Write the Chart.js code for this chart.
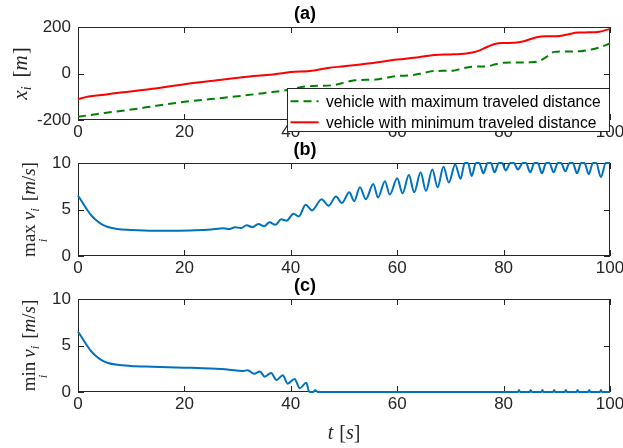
<!DOCTYPE html>
<html><head><meta charset="utf-8">
<script src="https://cdn.jsdelivr.net/npm/chart.js@4.4.0/dist/chart.umd.min.js"></script>
<style>
html,body{margin:0;padding:0;background:#fff;width:623px;height:448px;overflow:hidden;}
canvas{position:absolute;left:0;}
</style></head><body>
<canvas id="ca" width="623" height="142" style="top:0px"></canvas>
<canvas id="cb" width="623" height="142" style="top:136px"></canvas>
<canvas id="cc" width="623" height="176" style="top:272px"></canvas>
<script>
// ---------- data ----------
const xTicks = [0, 20, 40, 60, 80, 100];
const posTicks = [-200, 0, 200];
const speedTicks = [0, 5, 10];
const panelTitles = ['(a)', '(b)', '(c)'];
const legendLabels = ['vehicle with maximum traveled distance', 'vehicle with minimum traveled distance'];

const maxDistT = [0,5,10,15,20,25,30,35,40,42,44,48,50,52,56,58,60,63,65,67,70.5,72,74,77,78.5,80,85,86.5,88,89.5,92,94.5,96.5,98,100];
const maxDistX = [-186,-170,-155,-138,-122,-110,-98,-84,-69,-58,-54,-50,-40,-29,-26,-18,-11,-7,3,11,12,20,29,31,40,46,48,52,70,93,95,96,103,112,129];

const minDistT = [0,2,5,8,14,20,27,33,37,40,44,47,50,55,60,64,67,70,73,75,77,78.5,80,82,84,86,88,90,92,94,96,98,100];
const minDistX = [-110,-99,-91,-82,-66,-46,-27,-11,-3,6,12,24,31,44,60,70,80,82,86,95,115,128,131,132,140,155,160,160,168,176,177,180,192];

const maxSpeedT = [0,0.9,1.75,2.6,3.6,4.5,5.5,7.4,9.9,14.3,19,22,25,
  27.3,28.5,29.5,30.6,31.7,32.8,33.9,35.0,36.0,37.1,38.2,39.2,40.5,41.5,42.8,44.0,
  45.8,47.1,48.5,49.6,51.0,51.9,53.0,54.1,55.5,56.4,57.7,58.6,60.0,61.0,62.2,63.2,
  64.4,65.4,66.6,67.6,68.7,69.7,70.9,71.9,
  72.7,73.3,74.0,74.8,75.4,76.2,77.0,77.6,78.3,79.1,79.7,80.4,81.3,81.9,82.7,83.6,84.2,85.0,
  85.8,86.4,87.2,88.0,88.6,89.4,90.2,90.8,91.6,92.4,93.0,93.8,94.6,95.2,96.0,96.8,97.4,98.3,99.2,100];
const maxSpeedV = [6.5,5.7,4.95,4.3,3.76,3.4,3.15,2.9,2.8,2.72,2.72,2.76,2.85,
  2.98,2.9,3.1,3.0,3.3,3.1,3.45,3.2,3.62,3.35,3.95,3.8,4.55,4.25,5.5,4.9,
  6.1,5.4,6.4,5.7,6.85,5.9,7.4,6.1,7.75,6.3,8.05,6.6,8.35,6.75,8.7,6.85,
  9.0,7.0,9.3,7.4,9.6,7.9,9.85,8.3,
  10,10,8.6,10,10,8.9,10,10,9.0,10,10,9.2,10,10,9.3,10,10,9.0,
  10,10,8.9,10,10,9.0,10,10,9.1,10,10,8.9,10,10,8.8,10,10,8.5,10,10];

const minSpeedT = [0,0.9,1.75,2.6,3.6,4.5,5.5,7.4,9.9,14,20,25,28.4,30.9,31.9,33.1,34.2,35.1,36.3,37.3,
  38.5,39.4,40.7,41.7,42.9,43.5,44.2,44.6,45.1,
  82.7,82.9,83.1,84.9,85.1,85.3,87.1,87.3,87.5,89.3,89.5,89.7,91.5,91.7,91.9,93.7,93.9,94.1,95.9,96.1,96.3,98.1,98.3,98.5,100];
const minSpeedV = [6.5,5.7,4.95,4.3,3.76,3.4,3.15,2.92,2.8,2.72,2.62,2.52,2.4,2.25,2.35,1.95,2.2,1.65,2.05,1.3,
  1.8,0.9,1.4,0.4,1.0,0,0,0.2,0,
  0,0.22,0,0,0.22,0,0,0.22,0,0,0.22,0,0,0.22,0,0,0.22,0,0,0.22,0,0,0.22,0,0];

// ---------- helpers ----------
const pts = (T, V) => T.map((t, i) => ({x: t, y: V[i]}));
const SANS = "'Liberation Sans', Arial, sans-serif";
const SERIF = "'Liberation Serif', 'DejaVu Serif', serif";
const AX = '#262626';

function drawRuns(ctx, runs, cx, cy, rotate) {
  ctx.save();
  let total = 0;
  runs.forEach(r => { ctx.font = r.font; r.w = ctx.measureText(r.text).width; if (!r.under) total += r.w + (r.gap || 0); });
  ctx.translate(cx, cy);
  if (rotate) ctx.rotate(-Math.PI / 2);
  ctx.fillStyle = AX;
  ctx.textBaseline = 'alphabetic';
  let x = -total / 2, last = null;
  runs.forEach(r => {
    ctx.font = r.font;
    if (r.under && last) {
      ctx.fillText(r.text, last.x + last.w / 2 - r.w / 2, 5 + r.dy);
    } else {
      ctx.fillText(r.text, x, 5 + (r.dy || 0));
      last = {x, w: r.w};
      x += r.w + (r.gap || 0);
    }
  });
  ctx.restore();
}

const frame = {
  id: 'frame',
  beforeDatasetsDraw(chart) {
    const {ctx, chartArea: a, scales: {x, y}} = chart;
    ctx.save();
    ctx.strokeStyle = AX; ctx.lineWidth = 1;
    ctx.strokeRect(a.left + 0.5, a.top + 0.5, a.right - a.left - 1, a.bottom - a.top - 1);
    const L = 6;
    ctx.beginPath();
    x.ticks.forEach(t => {
      const px = Math.round(x.getPixelForValue(t.value)) + 0.5;
      ctx.moveTo(px, a.bottom); ctx.lineTo(px, a.bottom - L);
      ctx.moveTo(px, a.top); ctx.lineTo(px, a.top + L);
    });
    y.ticks.forEach(t => {
      const py = Math.round(y.getPixelForValue(t.value)) + 0.5;
      ctx.moveTo(a.left, py); ctx.lineTo(a.left + L, py);
      ctx.moveTo(a.right, py); ctx.lineTo(a.right - L, py);
    });
    ctx.stroke();
    ctx.restore();
  }
};

function yLabel(runs, cx) {
  return {
    id: 'ylab',
    afterDraw(chart) {
      const a = chart.chartArea;
      drawRuns(chart.ctx, runs, cx, (a.top + a.bottom) / 2, true);
    }
  };
}

const legendBox = {
  id: 'legendBox',
  afterDraw(chart) {
    const {ctx, chartArea: a} = chart;
    const x1 = a.right - 0.5, x0 = x1 - 322, y0 = a.bottom - 31.5, y1 = a.bottom + 11.5;
    ctx.save();
    ctx.fillStyle = '#fff';
    ctx.fillRect(x0, y0, x1 - x0, y1 - y0);
    ctx.strokeStyle = AX; ctx.lineWidth = 1;
    ctx.strokeRect(x0, y0, x1 - x0, y1 - y0);
    ctx.font = '15.6px ' + SANS;
    ctx.textBaseline = 'alphabetic';
    chart.data.datasets.forEach((ds, i) => {
      const base = y0 + 18.8 + i * 21;
      ctx.save();
      ctx.strokeStyle = ds.borderColor; ctx.lineWidth = ds.borderWidth;
      ctx.setLineDash(ds.borderDash || []);
      ctx.beginPath(); ctx.moveTo(x0 + 3, base - 6); ctx.lineTo(x0 + 31, base - 6); ctx.stroke();
      ctx.restore();
      ctx.fillStyle = '#000';
      ctx.fillText(ds.label, x0 + 38.5, base);
    });
    ctx.restore();
  }
};

const xTitle = {
  id: 'xtitle',
  afterDraw(chart) {
    const a = chart.chartArea;
    drawRuns(chart.ctx, [
      {text: 't', font: 'italic 20px ' + SERIF, gap: 6},
      {text: '[', font: '20px ' + SERIF},
      {text: 's', font: 'italic 20px ' + SERIF},
      {text: ']', font: '20px ' + SERIF}
    ], (a.left + a.right) / 2, a.bottom + 42, false);
  }
};

function makeChart(id, title, datasets, yMin, yMax, yTicks, xh, extraPlugins) {
  return new Chart(document.getElementById(id), {
    type: 'line',
    data: {datasets},
    options: {
      responsive: false, animation: false, devicePixelRatio: 1,
      layout: {padding: {left: 0, right: 13, top: 0, bottom: 0}},
      plugins: {
        legend: {display: false}, tooltip: {enabled: false},
        title: {display: true, text: title, color: '#000',
          font: {family: SANS, size: 18, weight: 'bold', lineHeight: 1.2},
          padding: {top: 3.7, bottom: 1.7}}
      },
      elements: {point: {radius: 0}, line: {cubicInterpolationMode: 'monotone', borderWidth: 2}},
      scales: {
        x: {type: 'linear', min: 0, max: 100,
          afterBuildTicks: s => { s.ticks = xTicks.map(v => ({value: v})); },
          grid: {display: false, drawTicks: false}, border: {display: false},
          ticks: {font: {family: SANS, size: 17}, color: AX, padding: 2, maxRotation: 0, autoSkip: false},
          afterFit: s => { s.height = xh; s.paddingLeft = 0; s.paddingRight = 0; }},
        y: {type: 'linear', min: yMin, max: yMax,
          afterBuildTicks: s => { s.ticks = yTicks.map(v => ({value: v})); },
          grid: {display: false, drawTicks: false}, border: {display: false},
          ticks: {font: {family: SANS, size: 17}, color: AX, padding: 7},
          afterFit: s => { s.width = 78; s.paddingTop = 0; s.paddingBottom = 0; }}
      }
    },
    plugins: [frame].concat(extraPlugins)
  });
}

const BLUE = '#0072BD';
const it = f => 'italic ' + f + 'px ' + SERIF;
const rm = f => f + 'px ' + SERIF;

makeChart('ca', panelTitles[0], [
  {label: legendLabels[0], data: pts(maxDistT, maxDistX), borderColor: '#008000', borderWidth: 2, borderDash: [8, 5], clip: 3},
  {label: legendLabels[1], data: pts(minDistT, minDistX), borderColor: '#ff0000', borderWidth: 2, clip: 3}
], -200, 200, posTicks, 22, [yLabel([
  {text: 'x', font: it(21)}, {text: 'i', font: it(14), dy: 4, gap: 9},
  {text: '[', font: rm(21)}, {text: 'm', font: it(21), gap: 1}, {text: ']', font: rm(21)}
], 22), legendBox]);

const speedLabel = (op) => [
  {text: op, font: rm(19), gap: 4}, {text: 'i', font: it(13), under: true, dy: 12},
  {text: 'v', font: it(19)}, {text: 'i', font: it(13), dy: 4, gap: 7},
  {text: '[', font: rm(19)}, {text: 'm', font: it(19)}, {text: '/', font: rm(19)},
  {text: 's', font: it(19)}, {text: ']', font: rm(19)}
];

makeChart('cb', panelTitles[1], [
  {label: 'max speed', data: pts(maxSpeedT, maxSpeedV), borderColor: BLUE, borderWidth: 2, clip: 3}
], 0, 10, speedTicks, 22, [yLabel(speedLabel('max'), 30)]);

makeChart('cc', panelTitles[2], [
  {label: 'min speed', data: pts(minSpeedT, minSpeedV), borderColor: BLUE, borderWidth: 2, clip: 3}
], 0, 10, speedTicks, 56, [yLabel(speedLabel('min'), 30), xTitle]);
</script>
</body></html>
